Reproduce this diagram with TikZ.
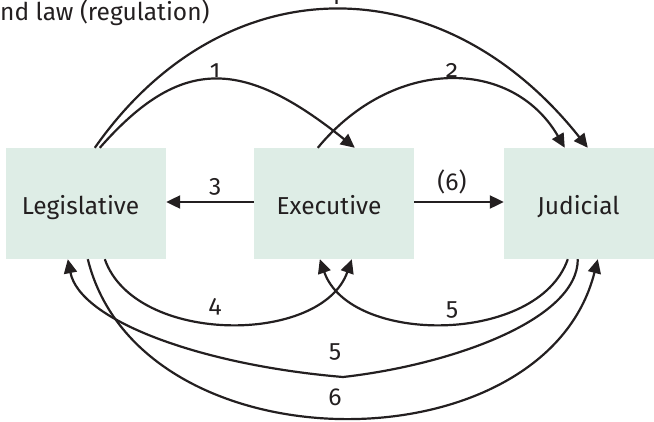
\documentclass[tikz,border=0pt]{standalone}
\usepackage{fontspec}
\setmainfont{Fira Sans}[Numbers=OldStyle]
\usetikzlibrary{arrows.meta,calc}
\definecolor{boxfill}{HTML}{DEEDE6}
\definecolor{ink}{HTML}{231F20}
\begin{document}
\begin{tikzpicture}[x=1pt,y=-1pt,
  branch/.style={fill=boxfill, draw=none, minimum width=160pt, minimum height=111pt, inner sep=0pt},
  txt/.style={font=\fontsize{24.5}{28}\selectfont, text=ink, anchor=base, inner sep=0pt},
  link/.style={draw=ink, line width=2.2pt, -{Triangle[length=14pt,width=13pt]}}]
\clip (0,0) rectangle (654,421);

% the three branches
\node[branch] (leg)  at (86,203.5)  {};
\node[branch] (exec) at (334,203.5) {};
\node[branch] (jud)  at (584,203.5) {};
\node[txt] (legname)  at (80.5,214)  {Legislative};
\node[txt] (execname) at (329,214)   {Executive};
\node[txt] (judname)  at (578.5,214) {Judicial};

% heading
\node[txt, anchor=base west] (title) at (0,20) {nd law (regulation)};

% upper arcs
\draw[link] ($(leg.north west)+(89,0)$) .. controls +(129,-184) and +(-146,-184) .. ($(jud.north west)+(84,0)$);
\node[txt] (l1a) at (335,4) {1};
\draw[link] ($(leg.north west)+(94,0)$) .. controls +(80,-91) and +(-113,-91) .. ($(exec.north west)+(101,0)$);
\node[txt] (l1b) at (215,77) {1};
\draw[link] ($(exec.north west)+(64,0)$) .. controls +(75,-91) and +(-53,-91) .. ($(jud.north west)+(61,0)$);
\node[txt] (l2) at (452,77) {2};

% straight arrows
\draw[link] ($(exec.west)+(0,-1.5)$) -- ($(leg.east)+(0,-1.5)$);
\node[txt] (l3) at (215,192) {3};
\draw[link] ($(exec.east)+(0,-1.5)$) -- ($(jud.west)+(0,-1.5)$);
\node[txt] (l6b) at (452,190) {(6)};

% lower arcs
\draw[link] ($(leg.south west)+(99,0)$) .. controls +(30,86) and +(-30,86) .. ($(exec.south west)+(98,0)$);
\node[txt] (l4) at (215,312) {4};
\draw[link] ($(jud.south west)+(64,0)$) .. controls +(-30,86) and +(30,86) .. ($(exec.south west)+(66,0)$);
\node[txt] (l5a) at (452,315) {5};
\coordinate (kink) at (343,377);
\draw[link] ($(jud.south west)+(74,0)$) .. controls +(0,61) and +(107,-12) .. (kink)
  .. controls +(-143,-12) and +(12,61) .. ($(leg.south west)+(62,0)$);
\node[txt] (l5b) at (335,357) {5};
\draw[link] ($(leg.south west)+(82,0)$) .. controls +(52,211) and +(-53,211) .. ($(jud.south west)+(94,0)$);
\node[txt] (l6) at (335,405) {6};
\end{tikzpicture}
\end{document}
